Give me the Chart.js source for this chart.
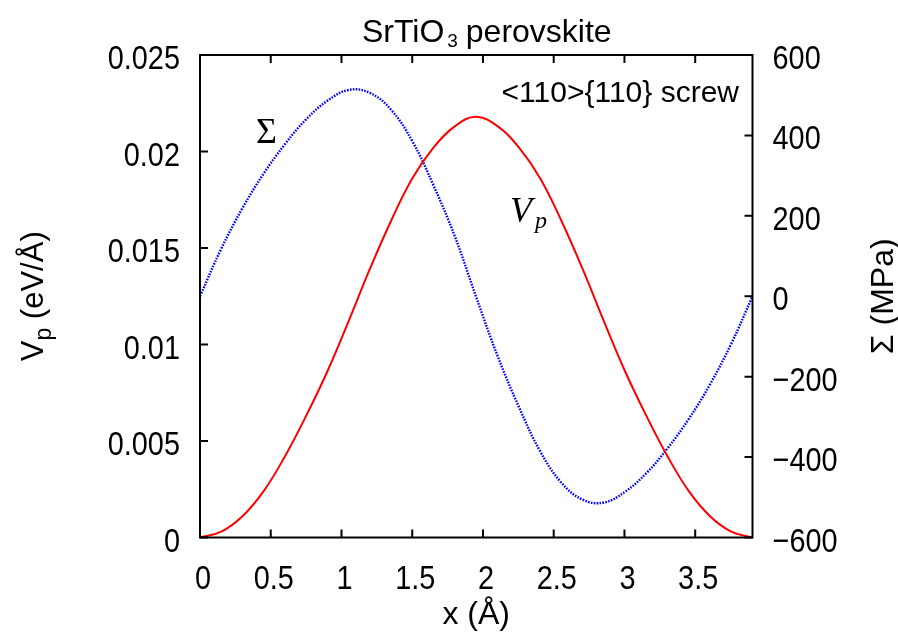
<!DOCTYPE html>
<html><head><meta charset="utf-8">
<script src="https://cdn.jsdelivr.net/npm/chart.js@4/dist/chart.umd.min.js"></script>
<style>html,body{margin:0;padding:0;background:#fff;} #wrap{width:898px;height:632px;position:relative;}</style>
</head><body><div id="wrap"><canvas id="c" width="898" height="632"></canvas></div>
<script>
// ---- data ----
const xGrid = [0, 0.15, 0.30, 0.45, 0.60, 0.75, 0.90, 1.05, 1.20, 1.35, 1.50, 1.65, 1.80, 1.95, 2.105, 2.255, 2.405, 2.555, 2.705, 2.855, 3.005, 3.155, 3.305, 3.455, 3.605, 3.755, 3.905];
const vpValues = [0, 0.0003, 0.0011, 0.0024, 0.0042, 0.0063, 0.0086, 0.0112, 0.0139, 0.0164, 0.0186, 0.0202, 0.0213, 0.0218, 0.0213, 0.0202, 0.0186, 0.0164, 0.0139, 0.0112, 0.0086, 0.0063, 0.0042, 0.0024, 0.0011, 0.0003, 0];
const sigmaValues = [0, 118, 219, 305, 378, 440, 486, 513, 506, 464, 386, 276, 150, 0, -150, -276, -386, -464, -506, -513, -486, -440, -378, -305, -219, -118, 0];
const xTicks = [0, 0.5, 1, 1.5, 2, 2.5, 3, 3.5];
const xTickLabels = ['0', '0.5', '1', '1.5', '2', '2.5', '3', '3.5'];
const vpTicks = [0, 0.005, 0.01, 0.015, 0.02, 0.025];
const vpTickLabels = ['0', '0.005', '0.01', '0.015', '0.02', '0.025'];
const sigmaTicks = [-600, -400, -200, 0, 200, 400, 600];
const sigmaTickLabels = ['\u2212600', '\u2212400', '\u2212200', '0', '200', '400', '600'];
const titleMain = 'SrTiO';
const titleSub = '3';
const titleRest = ' perovskite';
const xTitle = 'x (\u00C5)';
const vpTitle = 'V';
const vpTitleSub = 'p';
const vpTitleRest = ' (eV/\u00C5)';
const sigmaTitle = '\u03A3 (MPa)';
const noteText = '<110>{110} screw';
const sigmaLabel = '\u03A3';

// ---- styling ----
const W = 898, H = 632;
const AREA = {left: 200, right: 752.5, top: 55, bottom: 537.5};
const SANS = '"Liberation Sans", Arial, sans-serif';
const SERIF = '"Liberation Serif", "Times New Roman", serif';
const TICK_PX = 34, TICK_SQUEEZE = 0.85;

function pts(xs, ys) { return xs.map((x, i) => ({x: x, y: ys[i]})); }
function fixTicks(values) {
  return function (scale) { scale.ticks = values.map(v => ({value: v})); };
}
function narrowText(ctx, text, x, y, align) {
  ctx.save();
  ctx.font = TICK_PX + 'px ' + SANS;
  ctx.textBaseline = 'alphabetic';
  ctx.textAlign = 'left';
  const w = ctx.measureText(text).width * TICK_SQUEEZE;
  let x0 = x;
  if (align === 'right') x0 = x - w;
  else if (align === 'center') x0 = x - w / 2;
  ctx.translate(x0, y);
  ctx.scale(TICK_SQUEEZE, 1);
  ctx.fillText(text, 0, 0);
  ctx.restore();
}

const framePlugin = {
  id: 'frame',
  afterDraw(chart) {
    const ctx = chart.ctx, a = chart.chartArea, s = chart.scales;
    ctx.save();
    ctx.strokeStyle = '#000';
    ctx.lineWidth = 2;
    ctx.lineCap = 'butt';
    ctx.strokeRect(a.left, a.top, a.right - a.left, a.bottom - a.top);
    const L = 8;
    ctx.beginPath();
    xTicks.forEach(v => {
      const p = s.x.getPixelForValue(v);
      ctx.moveTo(p, a.bottom); ctx.lineTo(p, a.bottom - L);
      ctx.moveTo(p, a.top); ctx.lineTo(p, a.top + L);
    });
    vpTicks.forEach(v => {
      const p = s.y.getPixelForValue(v);
      ctx.moveTo(a.left, p); ctx.lineTo(a.left + L, p);
    });
    sigmaTicks.forEach(v => {
      const p = s.y1.getPixelForValue(v);
      ctx.moveTo(a.right, p); ctx.lineTo(a.right - L, p);
    });
    ctx.stroke();

    ctx.fillStyle = '#000';
    // tick labels
    xTicks.forEach((v, i) => narrowText(ctx, xTickLabels[i], s.x.getPixelForValue(v) + 3, 589, 'center'));
    vpTicks.forEach((v, i) => narrowText(ctx, vpTickLabels[i], a.left - 20, s.y.getPixelForValue(v) + 14, 'right'));
    sigmaTicks.forEach((v, i) => narrowText(ctx, sigmaTickLabels[i], a.right + 20, s.y1.getPixelForValue(v) + 14, 'left'));

    ctx.textBaseline = 'alphabetic';
    // title
    ctx.font = '32px ' + SANS;
    const w1 = ctx.measureText(titleMain).width;
    ctx.font = '19px ' + SANS;
    const w2 = ctx.measureText(titleSub).width;
    let tx = 362;
    ctx.textAlign = 'left';
    ctx.font = '32px ' + SANS;
    ctx.fillText(titleMain, tx, 42);
    ctx.font = '19px ' + SANS;
    ctx.fillText(titleSub, tx + w1 + 3, 47);
    ctx.font = '32px ' + SANS;
    ctx.fillText(titleRest, tx + w1 + w2 + 2, 42);

    // x title
    ctx.font = '32px ' + SANS;
    ctx.textAlign = 'center';
    ctx.fillText(xTitle, (a.left + a.right) / 2, 624);

    // left y title (rotated, reading upward)
    ctx.save();
    ctx.translate(43, (a.top + a.bottom) / 2);
    ctx.rotate(-Math.PI / 2);
    ctx.font = '31px ' + SANS;
    const v1 = ctx.measureText(vpTitle).width;
    const v3 = ctx.measureText(vpTitleRest).width;
    ctx.font = '23px ' + SANS;
    const v2 = ctx.measureText(vpTitleSub).width;
    const vw = v1 + v2 + v3;
    ctx.textAlign = 'left';
    let vx = -vw / 2;
    ctx.font = '31px ' + SANS;
    ctx.fillText(vpTitle, vx, 0);
    ctx.font = '23px ' + SANS;
    ctx.fillText(vpTitleSub, vx + v1, 8);
    ctx.font = '31px ' + SANS;
    ctx.fillText(vpTitleRest, vx + v1 + v2, 0);
    ctx.restore();

    // right y title (rotated, reading upward)
    ctx.save();
    ctx.translate(893, (a.top + a.bottom) / 2);
    ctx.rotate(-Math.PI / 2);
    ctx.font = '32px ' + SANS;
    ctx.textAlign = 'center';
    ctx.fillText(sigmaTitle, 0, 0);
    ctx.restore();

    // in-plot labels
    ctx.textAlign = 'right';
    ctx.font = '30px ' + SANS;
    ctx.fillText(noteText, 739, 102);

    ctx.textAlign = 'left';
    ctx.font = '36px ' + SERIF;
    ctx.fillText(sigmaLabel, 256, 143);

    ctx.font = 'italic 36px ' + SERIF;
    ctx.fillText('V', 510, 222);
    ctx.font = 'italic 24px ' + SERIF;
    ctx.fillText('p', 535, 228);
    ctx.restore();
  }
};

new Chart(document.getElementById('c'), {
  type: 'line',
  data: {
    datasets: [
      {
        label: 'Vp',
        data: pts(xGrid, vpValues),
        yAxisID: 'y',
        borderColor: 'rgb(255,0,0)',
        borderWidth: 2,
        pointRadius: 0,
        fill: false,
        tension: 0.4,
        order: 0
      },
      {
        label: 'Sigma',
        data: pts(xGrid, sigmaValues),
        yAxisID: 'y1',
        borderColor: 'rgb(0,0,255)',
        borderWidth: 2.4,
        borderDash: [1.6, 1.3],
        pointRadius: 0,
        fill: false,
        tension: 0.4,
        order: 1
      }
    ]
  },
  options: {
    responsive: false,
    animation: false,
    devicePixelRatio: 1,
    layout: {padding: {left: 0, right: 0, top: AREA.top, bottom: 0}},
    plugins: {legend: {display: false}, tooltip: {enabled: false}, title: {display: false}},
    scales: {
      x: {
        type: 'linear', position: 'bottom', min: 0, max: 3.905,
        afterBuildTicks: fixTicks(xTicks),
        afterFit(s) { s.height = H - AREA.bottom; },
        grid: {display: false, drawTicks: false}, border: {display: false},
        ticks: {display: false, callback: (v, i) => xTickLabels[i]}
      },
      y: {
        type: 'linear', position: 'left', min: 0, max: 0.025,
        afterBuildTicks: fixTicks(vpTicks),
        afterFit(s) { s.width = AREA.left; },
        grid: {display: false, drawTicks: false}, border: {display: false},
        ticks: {display: false, callback: (v, i) => vpTickLabels[i]}
      },
      y1: {
        type: 'linear', position: 'right', min: -600, max: 600,
        afterBuildTicks: fixTicks(sigmaTicks),
        afterFit(s) { s.width = W - AREA.right; },
        grid: {display: false, drawTicks: false}, border: {display: false},
        ticks: {display: false, callback: (v, i) => sigmaTickLabels[i]}
      }
    }
  },
  plugins: [framePlugin]
});
</script>
</body></html>
